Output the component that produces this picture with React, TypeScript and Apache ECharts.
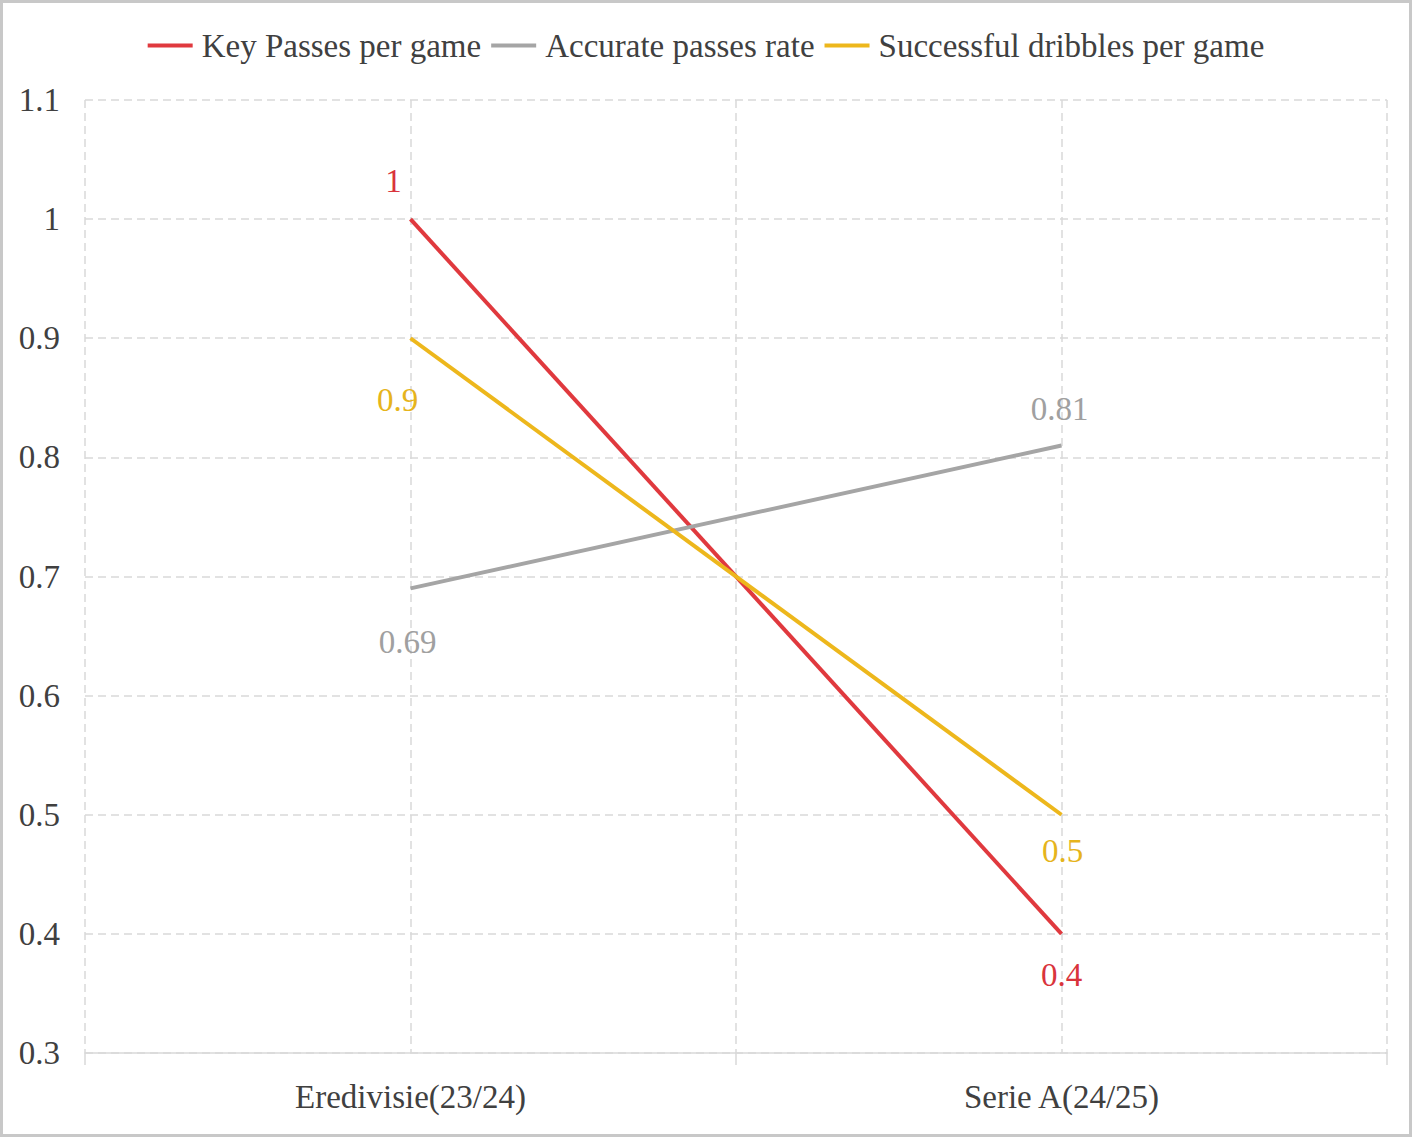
import { useEffect, useRef } from "react";
import * as echarts from "echarts";

// values
const categories = ["Eredivisie(23/24)", "Serie A(24/25)"];
const seriesNames = [
  "Key Passes per game",
  "Accurate passes rate",
  "Successful dribbles per game",
];
const keyPasses = [1, 0.4];
const accuratePasses = [0.69, 0.81];
const dribbles = [0.9, 0.5];
const yMin = 0.3;
const yMax = 1.1;
const yStep = 0.1;

const colors = ["#e0393e", "#a5a5a5", "#edb71c"];
const labelColors = ["#d9343c", "#a0a0a0", "#e6b41c"];
// label placement per point: [position, distance, dx]
const labelPlacement: [string, number, number][][] = [
  [["top", 22, -17], ["bottom", 25, 0]],
  [["bottom", 37, -3], ["top", 20, -2]],
  [["bottom", 45, -13], ["bottom", 20, 1]],
];

const FONT = "'Liberation Serif', 'Times New Roman', serif";
const FS = 33;

export default function App() {
  const rootRef = useRef<HTMLDivElement>(null);

  useEffect(() => {
    if (!rootRef.current) return;
    const chart = echarts.init(rootRef.current, undefined, {
      renderer: "svg",
      width: 1412,
      height: 1137,
    });

    const dashed = { color: "#d9d9d9", width: 1.5, type: [8, 5] as number[] };

    const makeSeries = (i: number, values: number[]) => ({
      name: seriesNames[i],
      type: "line",
      xAxisIndex: 0,
      data: values.map((v, j) => {
        const [position, distance, dx] = labelPlacement[i][j];
        return { value: v, label: { position, distance, offset: [dx, 0] } };
      }),
      symbol: "circle",
      symbolSize: 0,
      showSymbol: true,
      itemStyle: { color: colors[i] },
      lineStyle: { color: colors[i], width: 4 },
      label: {
        show: true,
        color: labelColors[i],
        fontSize: FS,
        fontFamily: FONT,
      },
    });

    chart.setOption({
      animation: false,
      backgroundColor: "#ffffff",
      textStyle: { fontFamily: FONT },
      graphic: [
        {
          type: "rect",
          silent: true,
          shape: { x: 1.5, y: 1.5, width: 1409, height: 1134 },
          style: { fill: "none", stroke: "#c8c8c8", lineWidth: 3 },
        },
      ],
      legend: {
        top: 24,
        left: "center",
        icon: "rect",
        itemWidth: 45,
        itemHeight: 4,
        itemGap: 10,
        data: seriesNames,
        textStyle: {
          fontSize: FS,
          color: "#404040",
          fontFamily: FONT,
          padding: [0, 0, 0, 4],
        },
      },
      grid: { left: 85, right: 25, top: 100, bottom: 84 },
      xAxis: [
        {
          type: "category",
          data: categories,
          boundaryGap: true,
          axisLine: { lineStyle: { color: "#d9d9d9", width: 1.5 } },
          axisTick: { show: true, length: 12, lineStyle: { color: "#d9d9d9", width: 1.5 } },
          axisLabel: { fontSize: FS, color: "#404040", margin: 27, fontFamily: FONT },
          splitLine: { show: false },
        },
        {
          type: "value",
          min: 0,
          max: 4,
          interval: 1,
          position: "bottom",
          axisLine: { show: false },
          axisTick: { show: false },
          axisLabel: { show: false },
          splitLine: { show: true, lineStyle: dashed },
        },
      ],
      yAxis: {
        type: "value",
        min: yMin,
        max: yMax,
        interval: yStep,
        axisLine: { show: false },
        axisTick: { show: false },
        axisLabel: {
          fontSize: FS,
          color: "#404040",
          margin: 25,
          fontFamily: FONT,
          formatter: (v: number) => String(Math.round(v * 10) / 10),
        },
        splitLine: { show: true, lineStyle: dashed },
      },
      series: [
        makeSeries(0, keyPasses),
        makeSeries(1, accuratePasses),
        makeSeries(2, dribbles),
      ],
    });

    return () => {
      chart.dispose();
    };
  }, []);

  return (
    <div
      ref={rootRef}
      style={{ position: "fixed", left: 0, top: 0, width: 1412, height: 1137 }}
    />
  );
}
